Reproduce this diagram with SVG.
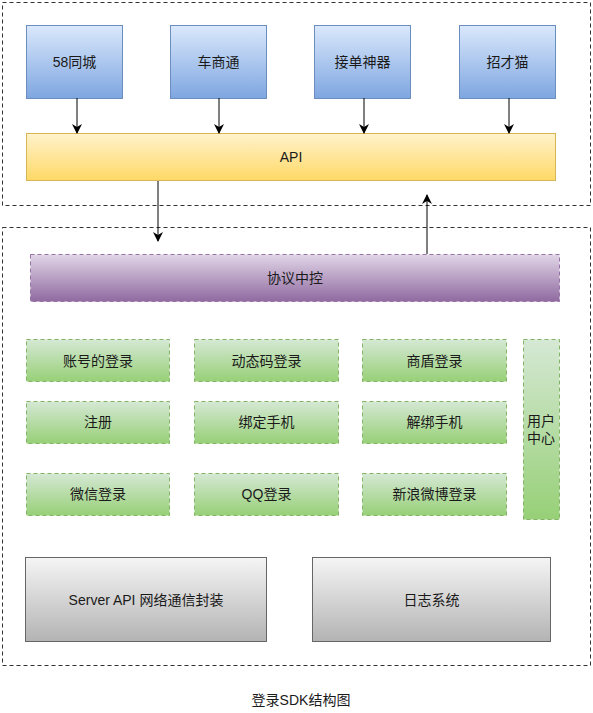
<svg xmlns="http://www.w3.org/2000/svg" width="593" height="713" viewBox="0 0 593 713">
<style>
text{font-family:"Liberation Sans","Noto Sans CJK SC",sans-serif;font-size:14px;fill:#1a1a1a;text-anchor:middle;dominant-baseline:central}
.cont{fill:none;stroke:#333;stroke-width:1;stroke-dasharray:4 3}
.blue{fill:url(#gb);stroke:#6c8ebf}
.yel{fill:url(#gy);stroke:#d6b656}
.pur{fill:url(#gp);stroke:#9673a6;stroke-dasharray:4 3}
.grn{fill:url(#gg);stroke:#82b366;stroke-dasharray:4 3}
.gry{fill:url(#gr);stroke:#666}
.edge{stroke:#000;stroke-width:1;fill:none}
</style>
<defs>
<linearGradient id="gb" x1="0" y1="0" x2="0" y2="1"><stop offset="0" stop-color="#dae8fc"/><stop offset="1" stop-color="#7ea6e0"/></linearGradient>
<linearGradient id="gy" x1="0" y1="0" x2="0" y2="1"><stop offset="0" stop-color="#fff2cc"/><stop offset="1" stop-color="#ffd966"/></linearGradient>
<linearGradient id="gp" x1="0" y1="0" x2="0" y2="1"><stop offset="0" stop-color="#e1d5e7"/><stop offset="1" stop-color="#8f6aa0"/></linearGradient>
<linearGradient id="gg" x1="0" y1="0" x2="0" y2="1"><stop offset="0" stop-color="#d5e8d4"/><stop offset="1" stop-color="#97d077"/></linearGradient>
<linearGradient id="gr" x1="0" y1="0" x2="0" y2="1"><stop offset="0" stop-color="#f5f5f5"/><stop offset="1" stop-color="#b3b3b3"/></linearGradient>
<marker id="arr" markerWidth="10" markerHeight="10" refX="9" refY="5" orient="auto" markerUnits="userSpaceOnUse"><path d="M0,0 L10,5 L0,10 L3,5 Z" fill="#000"/></marker>
</defs>
<g id="container-top"><rect class="cont" x="2.5" y="2.5" width="588" height="203"/></g>
<g id="container-bottom"><rect class="cont" x="2.5" y="227.5" width="588" height="438"/></g>
<g id="n58"><rect class="blue" x="26.5" y="25.5" width="96" height="73"/><text x="74.5" y="62">58同城</text></g>
<g id="nche"><rect class="blue" x="170.5" y="25.5" width="96" height="73"/><text x="218.5" y="62">车商通</text></g>
<g id="njie"><rect class="blue" x="314.5" y="25.5" width="96" height="73"/><text x="362.5" y="62">接单神器</text></g>
<g id="nzhao"><rect class="blue" x="459.5" y="25.5" width="96" height="73"/><text x="507.5" y="62">招才猫</text></g>
<g id="napi"><rect class="yel" x="26.5" y="133.5" width="529" height="47"/><text x="291" y="157">API</text></g>
<g id="nxieyi"><rect class="pur" x="30.5" y="254.5" width="529" height="47"/><text x="295" y="278">协议中控</text></g>
<g id="g1"><rect class="grn" x="26.5" y="339.5" width="143" height="42"/><text x="98" y="361">账号的登录</text></g>
<g id="g2"><rect class="grn" x="194.5" y="339.5" width="144" height="42"/><text x="266.5" y="361">动态码登录</text></g>
<g id="g3"><rect class="grn" x="362.5" y="339.5" width="144" height="42"/><text x="434.5" y="361">商盾登录</text></g>
<g id="g4"><rect class="grn" x="26.5" y="401.5" width="143" height="42"/><text x="98" y="422">注册</text></g>
<g id="g5"><rect class="grn" x="194.5" y="401.5" width="144" height="42"/><text x="266.5" y="422">绑定手机</text></g>
<g id="g6"><rect class="grn" x="362.5" y="401.5" width="144" height="42"/><text x="434.5" y="422">解绑手机</text></g>
<g id="g7"><rect class="grn" x="26.5" y="473.5" width="143" height="42"/><text x="98" y="494">微信登录</text></g>
<g id="g8"><rect class="grn" x="194.5" y="473.5" width="144" height="42"/><text x="266.5" y="494">QQ登录</text></g>
<g id="g9"><rect class="grn" x="362.5" y="473.5" width="144" height="42"/><text x="434.5" y="494">新浪微博登录</text></g>
<g id="guser"><rect class="grn" x="523.5" y="339.5" width="36" height="180"/><text x="541" y="421">用户</text><text x="541" y="438">中心</text></g>
<g id="nserver"><rect class="gry" x="25.5" y="557.5" width="241" height="84"/><text x="146" y="600">Server API 网络通信封装</text></g>
<g id="nlog"><rect class="gry" x="312.5" y="557.5" width="238" height="84"/><text x="431.5" y="600">日志系统</text></g>
<g id="connectors">
<line class="edge" x1="77" y1="98" x2="77" y2="133" marker-end="url(#arr)"/>
<line class="edge" x1="219" y1="98" x2="219" y2="133" marker-end="url(#arr)"/>
<line class="edge" x1="364" y1="98" x2="364" y2="133" marker-end="url(#arr)"/>
<line class="edge" x1="509" y1="98" x2="509" y2="133" marker-end="url(#arr)"/>
<line class="edge" x1="158" y1="181" x2="158" y2="241" marker-end="url(#arr)"/>
<line class="edge" x1="427" y1="254" x2="427" y2="195" marker-end="url(#arr)"/>
</g>
<text x="301" y="700">登录SDK结构图</text>
</svg>
